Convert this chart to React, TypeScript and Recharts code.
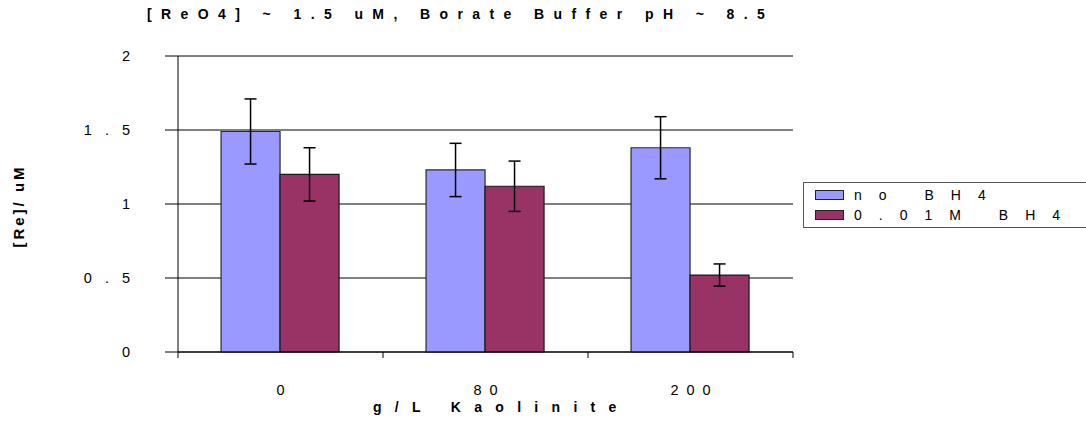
import React from 'react';
import { BarChart, Bar, XAxis, YAxis, CartesianGrid, ErrorBar } from 'recharts';

const categories = ['0', '80', '200'];
const noBH4 = [1.49, 1.23, 1.38];
const noBH4Err = [0.22, 0.18, 0.21];
const withBH4 = [1.2, 1.12, 0.52];
const withBH4Err = [0.18, 0.17, 0.075];
const yTicks = [0, 0.5, 1, 1.5, 2];
const seriesNames = ['no BH4', '0.01M BH4'];
const colors = ['#9999FF', '#993366'];
const title = '[ReO4] ~ 1.5 uM, Borate Buffer pH ~ 8.5';
const xTitle = 'g/L Kaolinite';
const yTitle = '[Re]/ uM';

const data = categories.map((c, i) => ({
  cat: c,
  a: noBH4[i],
  aErr: noBH4Err[i],
  b: withBH4[i],
  bErr: withBH4Err[i],
}));

const FONT = '"Liberation Sans", Arial, sans-serif';
const X_TICK_MARGIN = 33;
const EDGE_TICK = 6;

const YTick = (props: any) => {
  const { x, y, payload } = props;
  const ls = 13;
  return (
    <text x={x} y={y} dx={ls} dy="0.355em" textAnchor="end" fontSize={14.5} fontFamily={FONT} fill="#000" style={{ letterSpacing: ls }}>
      {String(payload.value)}
    </text>
  );
};

const XTick = (props: any) => {
  const { x, y, payload, index, visibleTicksCount } = props;
  const ls = 8;
  const half = payload && typeof payload.offset === 'number' ? payload.offset : 0;
  const axisY = y - X_TICK_MARGIN;
  const isLast = visibleTicksCount != null ? index === visibleTicksCount - 1 : index === categories.length - 1;
  return (
    <g>
      {half > 0 && <line x1={x - half} x2={x - half} y1={axisY} y2={axisY + EDGE_TICK} stroke="#000" />}
      {half > 0 && isLast && <line x1={x + half} x2={x + half} y1={axisY} y2={axisY + EDGE_TICK} stroke="#000" />}
      <text x={x} y={y} dx={ls / 2} dy="0.71em" textAnchor="middle" fontSize={14.5} fontFamily={FONT} fill="#000" style={{ letterSpacing: ls }}>
        {String(payload.value)}
      </text>
    </g>
  );
};

export default function App() {
  return (
    <div style={{ position: 'absolute', left: 0, top: 0, width: 1086, height: 423, background: '#fff', fontFamily: FONT, overflow: 'hidden' }}>
      <BarChart
        width={1086}
        height={423}
        data={data}
        margin={{ top: 56, right: 293, bottom: 70, left: 118 }}
        barCategoryGap="21%"
        barGap={0}
      >
        <CartesianGrid horizontal vertical={false} stroke="#000" strokeWidth={1} />
        <XAxis
          dataKey="cat"
          type="category"
          height={1}
          tickLine={false}
          tickSize={0}
          tickMargin={X_TICK_MARGIN}
          axisLine={{ stroke: '#000' }}
          tick={<XTick />}
          interval={0}
        />
        <YAxis
          domain={[0, 2]}
          ticks={yTicks}
          width={60}
          tickSize={13}
          tickMargin={35}
          axisLine={{ stroke: '#000' }}
          tickLine={{ stroke: '#000' }}
          tick={<YTick />}
          interval={0}
        />
        <Bar dataKey="a" name={seriesNames[0]} fill={colors[0]} stroke="#2a2a2a" strokeWidth={1.2} isAnimationActive={false}>
          <ErrorBar dataKey="aErr" width={6} stroke="#000" strokeWidth={1.5} />
        </Bar>
        <Bar dataKey="b" name={seriesNames[1]} fill={colors[1]} stroke="#1a1a1a" strokeWidth={1.2} isAnimationActive={false}>
          <ErrorBar dataKey="bErr" width={6} stroke="#000" strokeWidth={1.5} />
        </Bar>
      </BarChart>

      <div style={{ position: 'absolute', left: 147, top: 6, whiteSpace: 'nowrap', fontSize: 14, fontWeight: 'bold', letterSpacing: 9.4, lineHeight: '16px' }}>
        {title}
      </div>

      <div style={{ position: 'absolute', left: 373, top: 399, whiteSpace: 'nowrap', fontSize: 14, fontWeight: 'bold', letterSpacing: 13.3, lineHeight: '16px' }}>
        {xTitle}
      </div>

      <div style={{ position: 'absolute', left: 19, top: 206, width: 0, height: 0 }}>
        <div style={{ position: 'absolute', left: 0, top: 0, transform: 'translate(-50%, -50%) rotate(-90deg)', whiteSpace: 'nowrap', fontSize: 15, fontWeight: 'bold', letterSpacing: 3, lineHeight: '16px' }}>
          {yTitle}
        </div>
      </div>

      <div style={{ position: 'absolute', left: 803, top: 182, width: 320, height: 46, border: '1px solid #555', boxSizing: 'border-box', background: '#fff' }}>
        {seriesNames.map((n, i) => (
          <div key={n} style={{ position: 'absolute', left: 11, top: 3 + i * 20, height: 18, display: 'flex', alignItems: 'center', whiteSpace: 'nowrap' }}>
            <div style={{ width: 27, height: 8, background: colors[i], border: '1px solid #222', marginRight: 10 }} />
            <span style={{ fontSize: 14, letterSpacing: 17 }}>{n}</span>
          </div>
        ))}
      </div>
    </div>
  );
}
